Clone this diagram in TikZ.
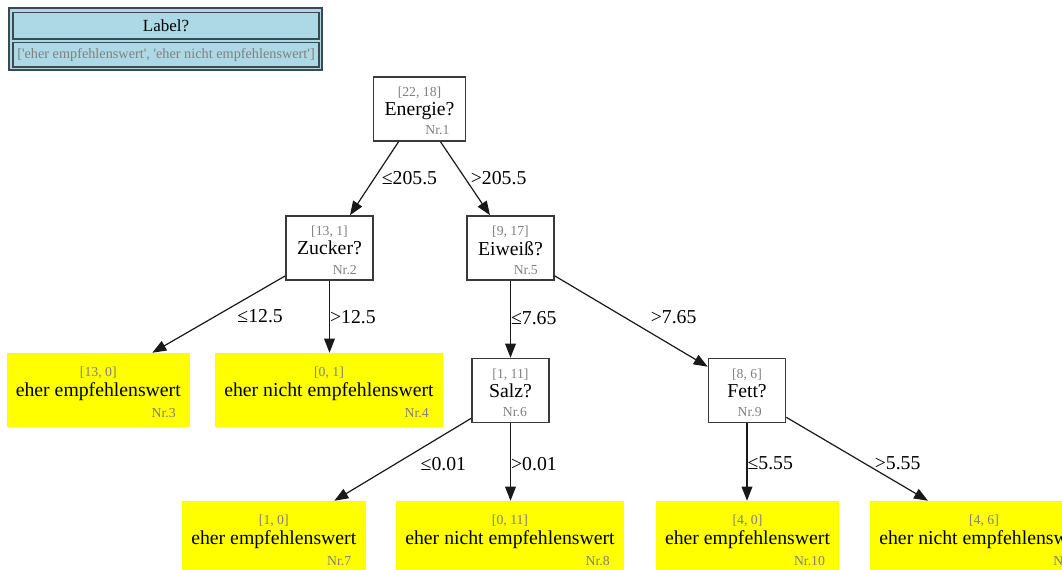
\documentclass[tikz,border=0pt]{standalone}
\usepackage{fontspec}
\setmainfont{Liberation Serif}
\newfontfamily\legfont{Liberation Serif}[Ligatures=TeXOff]
\usetikzlibrary{arrows.meta,calc}

\definecolor{textgrau}{HTML}{808080}
\definecolor{rahmen}{HTML}{3A3A3A}
\definecolor{legblau}{HTML}{ADD8E6}
\definecolor{legrand}{HTML}{3B4A50}
\definecolor{blattgelb}{HTML}{FFFF00}

\newcommand{\grau}{\color{textgrau}\fontsize{10.3}{12}\selectfont}
\newcommand{\knoten}[3]{%
  \begin{tabular}{@{}c@{}}
    {\grau\rule{0pt}{14.5pt}#1}\\
    #2\\
    \multicolumn{1}{@{}r@{\hspace{3.75pt}}}{\grau #3}
  \end{tabular}}

\tikzset{
  frage/.style={draw=rahmen, line width=1.2pt, fill=white, inner xsep=8.25pt,
    inner ysep=0pt, minimum width=57.75pt, minimum height=48pt,
    font=\fontsize{14.8}{14.3}\selectfont},
  blatt/.style={fill=blattgelb, inner xsep=7pt, inner ysep=0pt,
    minimum height=55.5pt, font=\fontsize{14.8}{15.4}\selectfont},
  pfeil/.style={draw=black!90, line width=0.9pt,
    -{Triangle[length=10.5pt,width=8pt]}},
  lbl/.style={anchor=west, inner sep=0pt, font=\fontsize{14.8}{16}\selectfont},
}

\begin{document}
\begin{tikzpicture}[x=0.75pt, y=-0.75pt]

  \useasboundingbox (0,0) rectangle (1062,569);
  \clip (0,0) rectangle (1062,569);

  % legend
  \node[draw=legrand, line width=1.5pt, fill=legblau, inner sep=0pt,
    minimum width=235pt, minimum height=47pt] (legende) at (165.5,39) {};
  \node[draw=legrand, line width=1pt, inner sep=0pt, minimum width=229.5pt,
    minimum height=20pt, font=\fontsize{12.75}{14}\selectfont] (legkopf) at (166,25.5) {Label?};
  \node[draw=legrand, line width=1pt, inner sep=0pt, minimum width=229.5pt,
    minimum height=18.5pt, text=textgrau, font=\legfont\fontsize{10.7}{12}\selectfont]
    (leginhalt) at (166,54.5) {['eher empfehlenswert', 'eher nicht empfehlenswert']};

  \begin{scope}[every node/.style={frage}]
    \node (n1) at (419.5,109) {\knoten{[22, 18]}{Energie?}{Nr.1}};
    \node (n2) at (329.5,248) {\knoten{[13, 1]}{Zucker?}{Nr.2}};
    \node (n5) at (510.5,248) {\knoten{[9, 17]}{Eiweiß?}{Nr.5}};
    \node (n6) at (510.5,390.5) {\knoten{[1, 11]}{Salz?}{Nr.6}};
    \node (n9) at (747,390.5) {\knoten{[8, 6]}{Fett?}{Nr.9}};
  \end{scope}

  \begin{scope}[every node/.style={blatt}]
    \node (l3)  at (98.3,390)  {\knoten{[13, 0]}{eher empfehlenswert}{Nr.3}};
    \node (l4)  at (329,390)   {\knoten{[0, 1]}{eher nicht empfehlenswert}{Nr.4}};
    \node (l7)  at (273.8,538) {\knoten{[1, 0]}{eher empfehlenswert}{Nr.7}};
    \node (l8)  at (510,538)   {\knoten{[0, 11]}{eher nicht empfehlenswert}{Nr.8}};
    \node (l10) at (747.5,538) {\knoten{[4, 0]}{eher empfehlenswert}{Nr.10}};
    \node (l11) at (984,538)   {\knoten{[4, 6]}{eher nicht empfehlenswert}{Nr.11}};
  \end{scope}

  \begin{scope}[every node/.style={lbl}, every edge/.style={pfeil}]
    \path ($(n1.south)+(-21,0)$) edge node[xshift=5.25pt] {≤205.5} ($(n2.north)+(20.5,0)$);
    \path ($(n1.south)+(21,0)$) edge node[xshift=3.75pt] {>205.5} ($(n5.north)+(-20.5,0)$);
    \path ($(n2.south west)+(0,-5)$) edge node[xshift=13.5pt, yshift=-1.5pt] {≤12.5} ($(l3.north)+(54,0)$);
    \path (n2.south) edge node {>12.5} (n2.south |- l4.north);
    \path (n5.south) edge node[yshift=1pt] {≤7.65} (n6.north);
    \path ($(n5.south east)+(0,-5)$) edge node[xshift=14.25pt, yshift=3pt] {>7.65} ($(n9.north west)+(0,9)$);
    \path ($(n6.south west)+(0,-5)$) edge node[xshift=13pt, yshift=-3.75pt] {≤0.01} ($(l7.north)+(60.5,0)$);
    \path (n6.south) edge node[yshift=-1.5pt] {>0.01} (n6.south |- l8.north);
    \path (n9.south) edge node[yshift=-0.75pt] {≤5.55} (n9.south |- l10.north);
    \path ($(n9.south east)+(0,-6)$) edge node[xshift=12.75pt, yshift=-3pt] {>5.55} ($(l11.north)+(-56,0)$);
  \end{scope}

\end{tikzpicture}
\end{document}
